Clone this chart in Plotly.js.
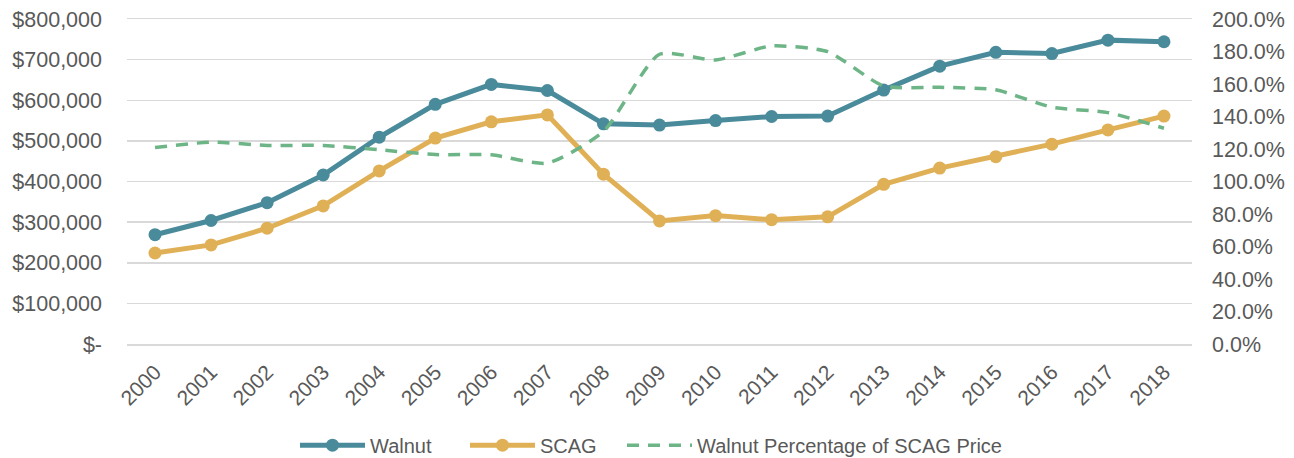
<!DOCTYPE html>
<html>
<head>
<meta charset="utf-8">
<script src="https://cdn.plot.ly/plotly-3.0.1.min.js"></script>
<style>
html,body{margin:0;padding:0;background:#fff;}
#chart{width:1294px;height:458px;}
</style>
</head>
<body>
<div id="chart"></div>
<script>
const years = ["2000","2001","2002","2003","2004","2005","2006","2007","2008","2009","2010","2011","2012","2013","2014","2015","2016","2017","2018"];
const walnut = [269000,304000,348000,416000,509000,590000,639000,624000,542000,539000,550000,560000,561000,625000,684000,718000,715000,748000,744000];
const scag = [224000,244000,285000,340000,426000,507000,547000,564000,418000,303000,316000,306000,313000,393000,433000,461000,492000,527000,561000];
const pct = [1.209,1.242,1.222,1.222,1.195,1.166,1.164,1.113,1.308,1.783,1.748,1.834,1.799,1.588,1.580,1.564,1.457,1.424,1.328];
const leftTicks = [0,100000,200000,300000,400000,500000,600000,700000,800000];
const leftTickText = ["$-","$100,000","$200,000","$300,000","$400,000","$500,000","$600,000","$700,000","$800,000"];

const font = "Liberation Sans, Arial, sans-serif";
const tickColor = "#595959";
const gridColor = "#D9D9D9";

const traces = [
  {x: years, y: walnut, name: "Walnut", type: "scatter", mode: "lines+markers", legend: "legend",
   line: {color: "#4A8B9B", width: 5}, marker: {color: "#4A8B9B", size: 13}},
  {x: years, y: scag, name: "SCAG", type: "scatter", mode: "lines+markers", legend: "legend2",
   line: {color: "#E0B057", width: 5}, marker: {color: "#E0B057", size: 13}},
  {x: years, y: pct, name: "Walnut Percentage of SCAG Price", type: "scatter", mode: "lines", legend: "legend3",
   yaxis: "y2", line: {color: "#6DB586", width: 3.5, dash: "12px,9px", shape: "spline", smoothing: 0.6}}
];

function leg(px) {
  return {orientation: "h", x: px / 1294, xanchor: "left", xref: "container",
          y: 0.028, yref: "container", yanchor: "middle",
          font: {family: font, size: 20, color: tickColor}, itemwidth: 65,
          bgcolor: "rgba(0,0,0,0)"};
}

const layout = {
  width: 1294, height: 458,
  margin: {l: 127, r: 102, t: 19, b: 113.5},
  paper_bgcolor: "#fff", plot_bgcolor: "#fff",
  font: {family: font, color: tickColor, size: 21.5},
  showlegend: true,
  legend: leg(295), legend2: leg(465), legend3: leg(622),
  xaxis: {type: "category", tickangle: -45, showgrid: false, zeroline: false,
          showline: true, linecolor: gridColor, linewidth: 1.5, mirror: true,
          ticks: "", tickfont: {size: 21, color: tickColor}, ticklabelstandoff: 6,
          range: [-0.5, 18.5]},
  yaxis: {range: [0, 800000], tickvals: leftTicks, ticktext: leftTickText,
          showgrid: true, gridcolor: gridColor, gridwidth: 1.5, zeroline: false,
          showline: false, ticks: "", tickfont: {size: 21.5, color: tickColor}, ticklabelstandoff: 24},
  yaxis2: {range: [0, 2], overlaying: "y", side: "right", dtick: 0.2, tickformat: ".1%",
           showgrid: false, zeroline: false, showline: false, ticks: "",
           tickfont: {size: 21.5, color: tickColor}, ticklabelstandoff: 19}
};

Plotly.newPlot("chart", traces, layout, {displayModeBar: false, staticPlot: true});
</script>
</body>
</html>
